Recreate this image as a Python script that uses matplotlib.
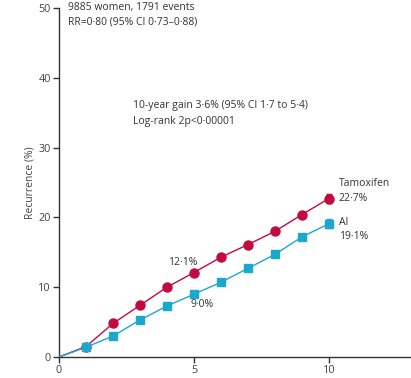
import matplotlib
matplotlib.use("Agg")
import matplotlib.pyplot as plt

years = [0, 1, 2, 3, 4, 5, 6, 7, 8, 9, 10]
tamoxifen = [0, 1.5, 4.8, 7.4, 10.0, 12.1, 14.3, 16.1, 18.0, 20.4, 22.7]
ai = [0, 1.4, 3.0, 5.3, 7.3, 9.0, 10.7, 12.7, 14.7, 17.2, 19.1]
tam_err = 0.6
ai_err = 0.6
xticks = [0, 5, 10]
yticks = [0, 10, 20, 30, 40, 50]

TAM = "#c10a3f"
AIC = "#1ba8cc"
TXT = "#333333"

plt.rcParams['font.family'] = ['Open Sans', 'DejaVu Sans']

fig = plt.figure(figsize=(4.11, 3.78), dpi=100)
ax = fig.add_axes([0.1436, 0.0556, 0.8564, 0.9234])

ax.plot(years, tamoxifen, color=TAM, lw=1.0, zorder=3)
ax.plot(years[1:], tamoxifen[1:], 'o', color=TAM, ms=6.5, lw=0, zorder=4)
ax.plot(years, ai, color=AIC, lw=1.0, zorder=3)
ax.plot(years[1:], ai[1:], 's', color=AIC, ms=6.0, lw=0, zorder=4)
ax.errorbar([years[-1]], [tamoxifen[-1]], yerr=tam_err, color=TAM, capsize=2.5, lw=1, zorder=4)
ax.errorbar([years[-1]], [ai[-1]], yerr=ai_err, color=AIC, capsize=2.5, lw=1, zorder=4)

ax.set_xlim(0, 13.04)
ax.set_ylim(0, 50)
ax.set_xticks(xticks)
ax.set_yticks(yticks)
ax.spines['top'].set_visible(False)
ax.spines['right'].set_visible(False)
for s in ['left', 'bottom']:
    ax.spines[s].set_color('#333333')
    ax.spines[s].set_linewidth(1.0)
ax.tick_params(direction='out', length=4, width=1, colors='#333333', labelsize=7.8, labelcolor='#444444', pad=2)
ax.set_ylabel("Recurrence (%)", fontsize=7.5, color='#444444', labelpad=2)

fs = 7.5
ax.text(0.33, 50, "9885 women, 1791 events", fontsize=fs, color=TXT, va='center', ha='left')
ax.text(0.33, 48.0, "RR=0·80 (95% CI 0·73–0·88)", fontsize=fs, color=TXT, va='center', ha='left')
ax.text(2.74, 36.05, "10-year gain 3·6% (95% CI 1·7 to 5·4)", fontsize=fs, color=TXT, va='center', ha='left')
ax.text(2.74, 33.7, "Log-rank 2p<0·00001", fontsize=fs, color=TXT, va='center', ha='left')
ax.text(4.6, 13.5, "12·1%", fontsize=fs, color=TXT, va='center', ha='center')
ax.text(5.3, 7.46, "9·0%", fontsize=fs, color=TXT, va='center', ha='center')
ax.text(10.37, 24.8, "Tamoxifen", fontsize=fs, color=TXT, va='center', ha='left')
ax.text(10.37, 22.67, "22·7%", fontsize=fs, color=TXT, va='center', ha='left')
ax.text(10.37, 19.3, "AI", fontsize=fs, color=TXT, va='center', ha='left')
ax.text(10.37, 17.26, "19·1%", fontsize=fs, color=TXT, va='center', ha='left')

fig.savefig("out.png", dpi=100)
